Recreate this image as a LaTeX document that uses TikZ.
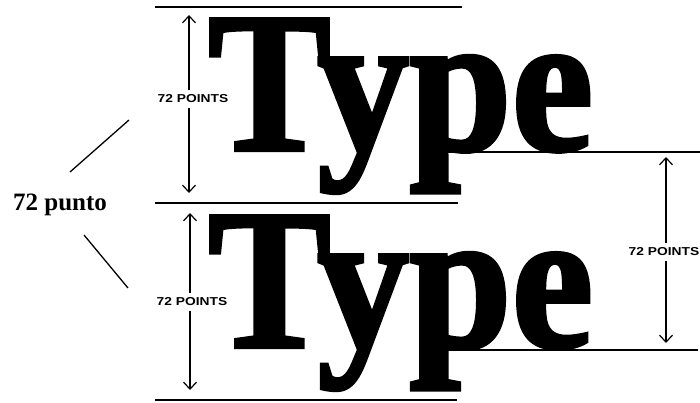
\documentclass[tikz,border=0pt]{standalone}
\usepackage{fontspec}
\setmainfont{Liberation Serif}
\setsansfont{Liberation Sans}
\newfontfamily\heavyface{Liberation Serif}[UprightFont={* Bold}, UprightFeatures={FakeBold=2}]
\usepackage{graphicx}
\usetikzlibrary{arrows.meta}

\begin{document}
\begin{tikzpicture}[x=1pt, y=-1pt,
  rule/.style={line width=1.4pt},
  dim/.style={-{Straight Barb[length=7pt,width=13pt,line width=1.2pt]}, line width=1.2pt},
  dimlabel/.style={font=\sffamily\bfseries\fontsize{11.5}{11.5}\selectfont, inner sep=5pt},
  bigword/.style={font=\heavyface\fontsize{200}{200}\selectfont, inner sep=0pt, anchor=base west},
  pointer/.style={line width=1.3pt}
]
\useasboundingbox (0,0) rectangle (700,403);
% the two words
\node[bigword] (upper) at (208,150) {\scalebox{0.92}[1]{Type}};
\node[bigword] (lower) at (208,347) {\scalebox{0.92}[1]{Type}};
% rules
\draw[rule] (155,7) -- (462,7);
\draw[rule] (155,203) -- (458,203);
\draw[rule] (155,400) -- (457,400);
\draw[rule] (440,152) -- (700,152);
\draw[rule] (438,350) -- (698,350);
% left dimensions
\coordinate (topA) at (189,15);
\coordinate (botA) at (189,193);
\node[dimlabel] (lblA) at (193,99) {\scalebox{1.2}[1]{72 POINTS}};
\draw[dim] (topA |- lblA.north) -- (topA);
\draw[dim] (botA |- lblA.south) -- (botA);
\coordinate (topB) at (190,213);
\coordinate (botB) at (190,390);
\node[dimlabel] (lblB) at (192,302) {\scalebox{1.2}[1]{72 POINTS}};
\draw[dim] (topB |- lblB.north) -- (topB);
\draw[dim] (botB |- lblB.south) -- (botB);
% right dimension
\coordinate (topC) at (666,157);
\coordinate (botC) at (666,343);
\node[dimlabel] (lblC) at (664,252) {\scalebox{1.2}[1]{72 POINTS}};
\draw[dim] (topC |- lblC.north) -- (topC);
\draw[dim] (botC |- lblC.south) -- (botC);
% callout
\node[font=\bfseries\fontsize{25}{25}\selectfont, inner sep=0pt, anchor=base] (punto) at (60,211) {72 punto};
\coordinate (ptrA) at (129,120);
\coordinate (ptrB) at (128,288);
\draw[pointer] (70,172) -- (ptrA);
\draw[pointer] (84,235) -- (ptrB);
\end{tikzpicture}
\end{document}
